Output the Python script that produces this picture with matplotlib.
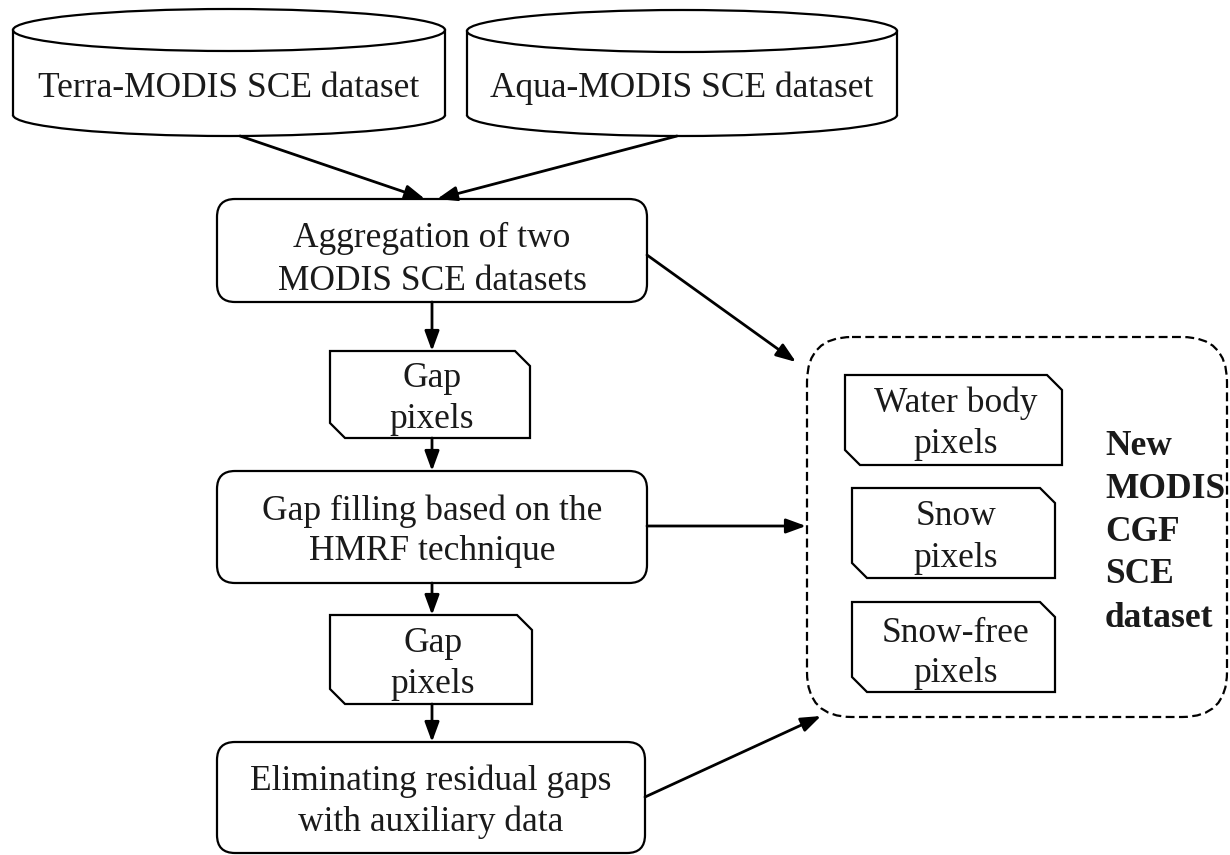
import matplotlib
matplotlib.use("Agg")
import matplotlib.pyplot as plt
from matplotlib.patches import FancyBboxPatch, Ellipse, Arc, Polygon

# ---- content ----
source_labels = ["Terra-MODIS SCE dataset", "Aqua-MODIS SCE dataset"]
process_labels = ["Aggregation of two\nMODIS SCE datasets",
                  "Gap filling based on the\nHMRF technique",
                  "Eliminating residual gaps\nwith auxiliary data"]
gap_labels = ["Gap\npixels", "Gap\npixels"]
output_labels = ["Water body\npixels", "Snow\npixels", "Snow-free\npixels"]
output_title = ["New", "MODIS", "CGF", "SCE", "dataset"]

FONT = "Liberation Serif"
FS = 25.5
TXT = "#1a1a1a"
LW_BOX = 1.6
LW_ARR = 2.0

fig = plt.figure(figsize=(12.3, 8.55), dpi=100)
ax = fig.add_axes([0, 0, 1, 1])
ax.set_xlim(0, 1230)
ax.set_ylim(855, 0)
ax.axis("off")


def lines_text(label, cx, baselines, **kw):
    for line, yb in zip(label.split("\n"), baselines):
        ax.text(cx, yb, line, ha="center", va="baseline", fontsize=FS,
                family=FONT, color=TXT, **kw)


def cylinder(x0, x1, ytop, ybot, rh, label, baseline):
    cx = (x0 + x1) / 2
    w = x1 - x0
    ax.add_patch(Ellipse((cx, ytop), w, 2 * rh, facecolor="white",
                         edgecolor="black", lw=LW_BOX))
    ax.plot([x0, x0], [ytop, ybot], color="black", lw=LW_BOX)
    ax.plot([x1, x1], [ytop, ybot], color="black", lw=LW_BOX)
    ax.add_patch(Arc((cx, ybot), w, 2 * rh, theta1=0, theta2=180,
                     edgecolor="black", lw=LW_BOX))
    ax.text(cx, baseline, label, ha="center", va="baseline", fontsize=FS,
            family=FONT, color=TXT)


def rbox(x0, x1, y0, y1, label, baselines):
    ax.add_patch(FancyBboxPatch((x0, y0), x1 - x0, y1 - y0,
                                boxstyle="round,pad=0,rounding_size=18",
                                facecolor="white", edgecolor="black", lw=LW_BOX))
    lines_text(label, (x0 + x1) / 2, baselines)


def card(x0, x1, y0, y1, label, baselines, c=15):
    pts = [(x0, y0), (x1 - c, y0), (x1, y0 + c), (x1, y1), (x0 + c, y1), (x0, y1 - c)]
    ax.add_patch(Polygon(pts, closed=True, facecolor="white",
                         edgecolor="black", lw=LW_BOX, joinstyle="miter"))
    lines_text(label, (x0 + x1) / 2 + 2, baselines)


def arrow(p0, p1):
    ax.annotate("", xy=p1, xytext=p0,
                arrowprops=dict(arrowstyle="-|>,head_length=0.6,head_width=0.22",
                                mutation_scale=20, color="black", lw=LW_ARR,
                                shrinkA=0, shrinkB=0))


# sources
cylinder(13, 445, 30, 115, 21, source_labels[0], 97)
cylinder(467, 897, 31, 115, 21, source_labels[1], 97)

# main column
rbox(217, 647, 199, 302, process_labels[0], [247, 290])
card(330, 530, 351, 438, gap_labels[0], [387, 428])
rbox(217, 647, 471, 583, process_labels[1], [520, 560])
card(330, 532, 615, 704, gap_labels[1], [652, 693])
rbox(217, 645, 742, 853, process_labels[2], [790, 831])

# output container
ax.add_patch(FancyBboxPatch((807, 337), 1227 - 807, 717 - 337,
                            boxstyle="round,pad=0,rounding_size=45",
                            facecolor="none", edgecolor="black", lw=1.6,
                            linestyle=(0, (4, 2))))
card(845, 1062, 375, 465, output_labels[0], [412, 453])
card(852, 1055, 488, 578, output_labels[1], [525, 567])
card(852, 1055, 602, 692, output_labels[2], [642, 682])
for word, yb in zip(output_title, [455, 498, 541, 583, 627]):
    ax.text(1105, yb, word, ha="left", va="baseline", fontsize=FS,
            family=FONT, weight="bold", color=TXT)

# arrows
arrow((240, 136), (425, 199))
arrow((677, 136), (437, 199))
arrow((432, 302), (432, 351))
arrow((432, 438), (432, 471))
arrow((432, 583), (432, 615))
arrow((432, 704), (432, 742))
arrow((647, 255), (796, 362))
arrow((647, 526), (806, 526))
arrow((645, 797), (821, 716))

fig.savefig("out.png", dpi=100, facecolor="white")
